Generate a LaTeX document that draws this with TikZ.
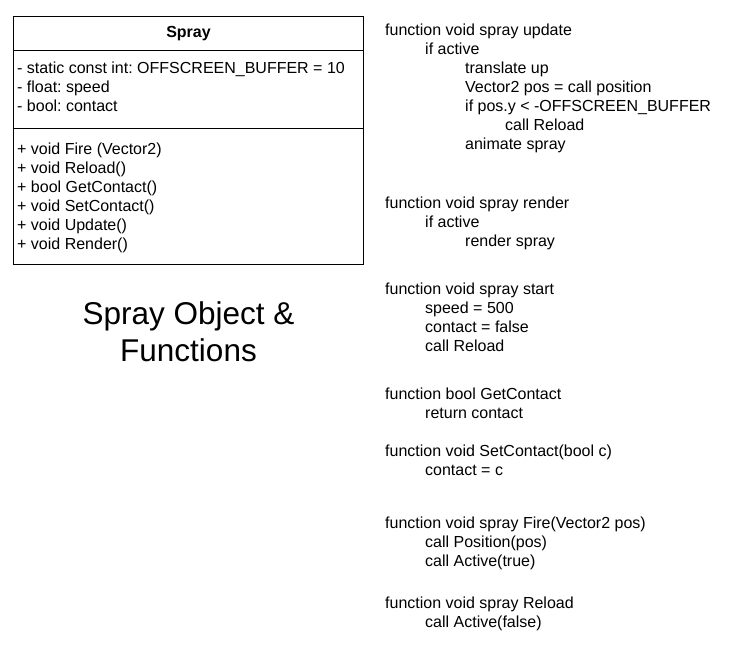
\documentclass[tikz,border=0pt]{standalone}
\usepackage{fontspec}
\setmainfont{Liberation Sans}
\usetikzlibrary{positioning}
\frenchspacing

\tikzset{
  codeline/.style={anchor=base west, inner sep=0pt, font=\fontsize{16}{19}\selectfont},
  classname/.style={anchor=base, inner sep=0pt, font=\fontsize{16}{19}\selectfont\bfseries},
  caption/.style={align=center, inner sep=0pt, font=\fontsize{31.5}{37}\selectfont},
  classbox/.style={draw, line width=1pt},
}

\begin{document}
\begin{tikzpicture}[x=1pt, y=-1pt]
  \useasboundingbox (0,0) rectangle (730,648);

  % Class box
  \draw[classbox] (13.5,16.5) rectangle (363.5,264);
  \draw[classbox] (13.5,50) -- (363.5,50);
  \draw[classbox] (13.5,128.5) -- (363.5,128.5);
  \node[classname] (spray) at (188.5,37) {Spray};

  % Attributes
  \foreach \y/\txt [count=\i] in {73/{- static const int: OFFSCREEN\_BUFFER = 10},
                                  92/{- float: speed},
                                  111/{- bool: contact}}
    \node[codeline] (attr\i) at (17,\y) {\txt};

  % Methods
  \foreach \y/\txt [count=\i] in {154/{+ void Fire (Vector2)},
                                  173/{+ void Reload()},
                                  192/{+ bool GetContact()},
                                  211/{+ void SetContact()},
                                  230/{+ void Update()},
                                  249/{+ void Render()}}
    \node[codeline] (meth\i) at (17,\y) {\txt};

  % Caption
  \node[caption] (caption) at (188.5,331.5) {Spray Object \&\\Functions};

  % Functions
  \foreach \y/\lvl/\txt [count=\i] in {35/0/{function void spray update},
                                       54/1/{if active},
                                       73/2/{translate up},
                                       92/2/{Vector2 pos = call position},
                                       111/2/{if pos.y < -OFFSCREEN\_BUFFER},
                                       130/3/{call Reload},
                                       149/2/{animate spray},
                                       208/0/{function void spray render},
                                       227/1/{if active},
                                       246/2/{render spray},
                                       294/0/{function void spray start},
                                       313/1/{speed = 500},
                                       332/1/{contact = false},
                                       351/1/{call Reload},
                                       399/0/{function bool GetContact},
                                       418/1/{return contact},
                                       456/0/{function void SetContact(bool c)},
                                       475/1/{contact = c},
                                       528/0/{function void spray Fire(Vector2 pos)},
                                       547/1/{call Position(pos)},
                                       566/1/{call Active(true)},
                                       608/0/{function void spray Reload},
                                       627/1/{call Active(false)}}
    \node[codeline] (fn\i) at (385+40*\lvl,\y) {\txt};

\end{tikzpicture}
\end{document}
